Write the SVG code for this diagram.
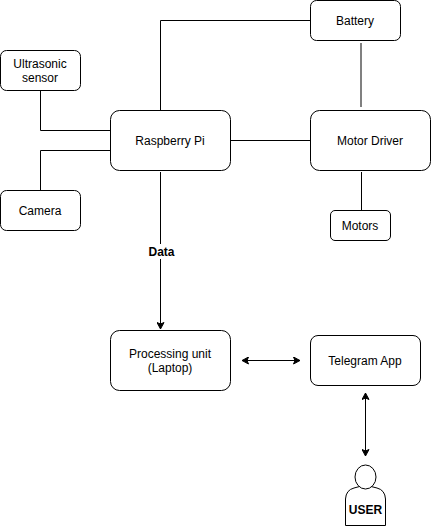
<svg xmlns="http://www.w3.org/2000/svg" width="431" height="526" viewBox="0 0 431 526">
<defs>
<marker id="a" markerUnits="userSpaceOnUse" markerWidth="8" markerHeight="8" refX="7" refY="4" orient="auto-start-reverse"><path d="M0.500 0.500L7 4L0.500 7.500L2 4Z" fill="#000" stroke="#000" stroke-width="1"/></marker>
</defs>
<style>
rect{fill:#fff;stroke:#000;stroke-width:1}
.c{fill:none;stroke:#000;stroke-width:1}
text{font-family:"Liberation Sans",Arial,sans-serif;font-size:12px;text-anchor:middle;fill:#000}
.b{font-weight:bold}
</style>
<rect width="431" height="526" style="fill:#fff;stroke:none"/>
<g id="connectors">
<path class="c" d="M160.500 110V20.500H310"/>
<path d="M361 43V107" fill="none" stroke="#808080" stroke-width="2"/>
<path class="c" d="M40.500 90V130.500H110"/>
<path class="c" d="M40.500 190V150.500H110"/>
<path class="c" d="M230 140.500H310"/>
<path class="c" d="M361.500 172V210"/>
<path class="c" d="M160.500 172V329" marker-end="url(#a)"/>
<path class="c" d="M242 360.500H300" marker-start="url(#a)" marker-end="url(#a)"/>
<path class="c" d="M365.500 393V456" marker-start="url(#a)" marker-end="url(#a)"/>
</g>
<g id="battery"><rect x="310.500" y="0.500" width="90" height="40" rx="6"/><text x="355" y="25">Battery</text></g>
<g id="ultrasonic"><rect x="0.500" y="50.500" width="80" height="40" rx="6"/><text x="40" y="68">Ultrasonic</text><text x="40" y="82">sensor</text></g>
<g id="raspberry"><rect x="110.500" y="110.500" width="120" height="60" rx="9"/><text x="170" y="145">Raspberry Pi</text></g>
<g id="motor-driver"><rect x="310.500" y="110.500" width="120" height="60" rx="9"/><text x="370" y="145">Motor Driver</text></g>
<g id="camera"><rect x="0.500" y="190.500" width="80" height="40" rx="6"/><text x="40" y="215">Camera</text></g>
<g id="motors"><rect x="330.500" y="210.500" width="60" height="30" rx="4.500"/><text x="360" y="230">Motors</text></g>
<g id="data-label"><rect x="146" y="244" width="30" height="15" style="stroke:none"/><text class="b" x="161.500" y="256">Data</text></g>
<g id="processing"><rect x="110.500" y="330.500" width="120" height="60" rx="9"/><text x="170" y="358">Processing unit</text><text x="170" y="372">(Laptop)</text></g>
<g id="telegram"><rect x="310.500" y="335.500" width="110" height="50" rx="7.500"/><text x="365" y="365">Telegram App</text></g>
<g id="user">
<path d="M345.500 525.500V499Q346 490 354 488Q365 484 377 488Q385 490 385.500 499V525.500Z" fill="#fff" stroke="#000"/>
<ellipse cx="365.500" cy="477" rx="10.500" ry="12" fill="#fff" stroke="#000"/>
<text class="b" x="365.500" y="514">USER</text>
</g>
</svg>
